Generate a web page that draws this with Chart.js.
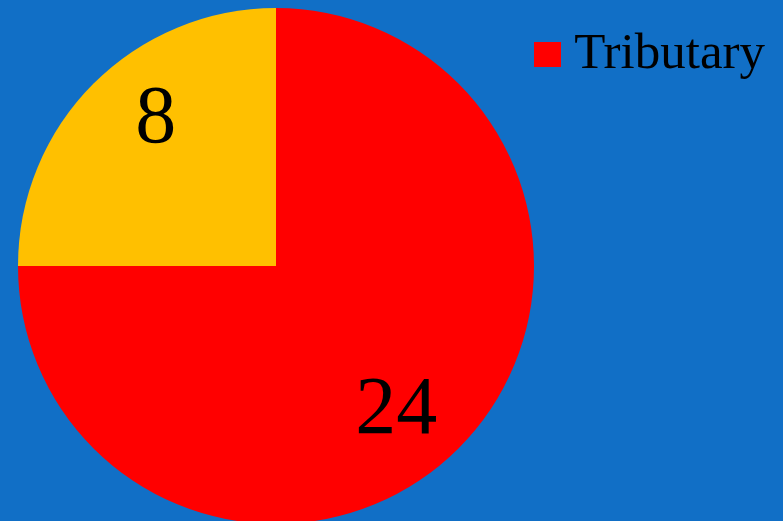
<!DOCTYPE html>
<html>
<head>
<meta charset="utf-8">
<script src="https://cdn.jsdelivr.net/npm/chart.js@4/dist/chart.umd.min.js"></script>
<style>
  html, body { margin: 0; padding: 0; overflow: hidden; background: #116fc6; }
  #wrap { width: 783px; height: 530px; }
</style>
</head>
<body>
<div id="wrap"><canvas id="my-chart"></canvas></div>
<script>
// Chart data
const categories = ["Tributary", ""];
const values = [24, 8];
const sliceColors = ["#ff0000", "#ffc000"];

// Draws the value of each slice on top of it
const sliceLabels = {
  id: "sliceLabels",
  afterDatasetsDraw(chart) {
    const ctx = chart.ctx;
    const meta = chart.getDatasetMeta(0);
    ctx.save();
    ctx.font = "82px 'Liberation Serif'";
    ctx.fillStyle = "#000";
    ctx.textAlign = "center";
    ctx.textBaseline = "middle";
    meta.data.forEach((arc, i) => {
      const p = arc.getProps(["x", "y", "startAngle", "endAngle", "outerRadius"], true);
      const mid = (p.startAngle + p.endAngle) / 2 + 0.096;
      const r = p.outerRadius * 0.733;
      ctx.fillText(String(values[i]), p.x + Math.cos(mid) * r, p.y + Math.sin(mid) * r);
    });
    ctx.restore();
  }
};

const ctx = document.getElementById("my-chart").getContext("2d");

const myChart = new Chart(ctx, {
  type: "pie",
  data: {
    labels: categories,
    datasets: [{
      data: values,
      backgroundColor: sliceColors,
      borderWidth: 0
    }]
  },
  options: {
    responsive: true,
    maintainAspectRatio: false,
    animation: false,
    layout: { padding: { left: 18, right: 18, top: 8, bottom: 6 } },
    plugins: {
      tooltip: { enabled: false },
      legend: {
        position: "right",
        align: "start",
        maxWidth: 231,
        title: { display: true, text: " ", font: { size: 10 }, padding: { top: 9, bottom: 0 } },
        labels: {
          padding: 0,
          boxWidth: 27,
          boxHeight: 25,
          textAlign: "right",
          color: "#000",
          font: { family: "'Liberation Serif'", size: 51 },
          filter: (item) => item.text !== ""
        }
      }
    }
  },
  plugins: [sliceLabels]
});
</script>
</body>
</html>
